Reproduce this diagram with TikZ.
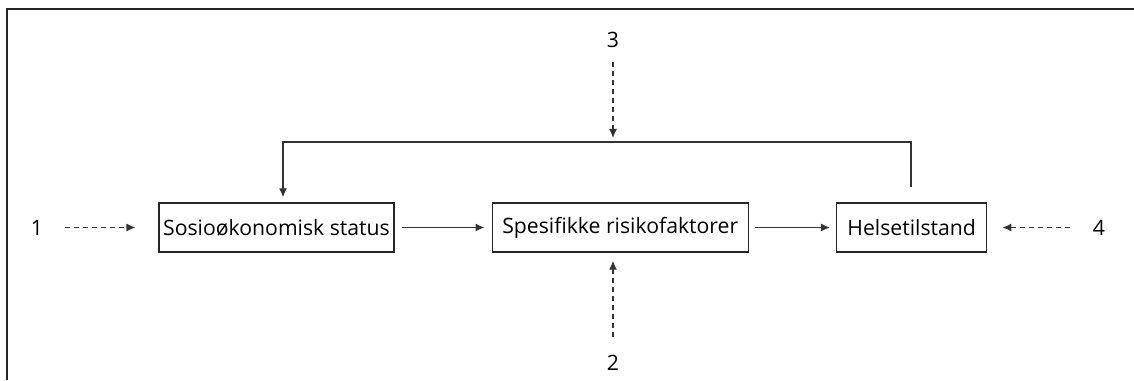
\documentclass[tikz,border=0pt]{standalone}
\usepackage{fontspec}
\setmainfont{Open Sans}
\usetikzlibrary{positioning,arrows.meta}

\begin{document}
\begin{tikzpicture}[x=0.5pt,y=0.5pt,
  box/.style={draw=black!85, line width=0.7pt, minimum height=24.5pt, inner xsep=2pt, font=\fontsize{10.6}{12}\selectfont},
  num/.style={inner sep=1pt, font=\fontsize{10.6}{12}\selectfont},
  flow/.style={draw=black!80, line width=0.65pt, -{Latex[length=4.5pt,width=4pt]}},
  dasharrow/.style={flow, dash pattern=on 2.5pt off 2pt}]
  \useasboundingbox (0,0) rectangle (1134,380);
  % frame
  \draw[line width=1.2pt, black!85] (7,0) -- (7,371) -- (1134,371);

  % the three boxes
  \node[box, minimum width=116.5pt] (sos) at (276.5,152.5) {Sosioøkonomisk status};
  \node[box, minimum width=128pt] (spes) [right=48.5pt of sos] {Spesifikke risikofaktorer};
  \node[box, minimum width=75pt] (helse) [right=43.5pt of spes] {Helsetilstand};

  % numbers
  \node[num] (one) at (37,152.5) {1};
  \node[num] (four) at (1099,152.5) {4};
  \node[num] (three) at (613,340) {3};
  \node[num] (two) at (613,17) {2};

  \coordinate (fbright) at (911,238);
  \coordinate (fbleft) at (283,238);
  \coordinate (fbmid) at (613,238);

  \draw[flow, shorten <=3.5pt, shorten >=3.5pt] (sos) -- (spes);
  \draw[flow, shorten <=3pt, shorten >=3pt] (spes) -- (helse);
  \draw[flow, shorten <=7.5pt, shorten >=2.5pt] (helse.north -| fbright) -- (fbright) -- (fbleft) -- (sos.north -| fbleft);

  \draw[dasharrow, shorten <=10pt, shorten >=11.5pt] (one) -- (sos);
  \draw[dasharrow, shorten <=10.5pt, shorten >=7.5pt] (four) -- (helse);
  \draw[dasharrow, shorten <=6pt, shorten >=2pt] (three) -- (fbmid);
  \draw[dasharrow, shorten <=8pt, shorten >=4pt] (two) -- (two |- spes.south);
\end{tikzpicture}
\end{document}
